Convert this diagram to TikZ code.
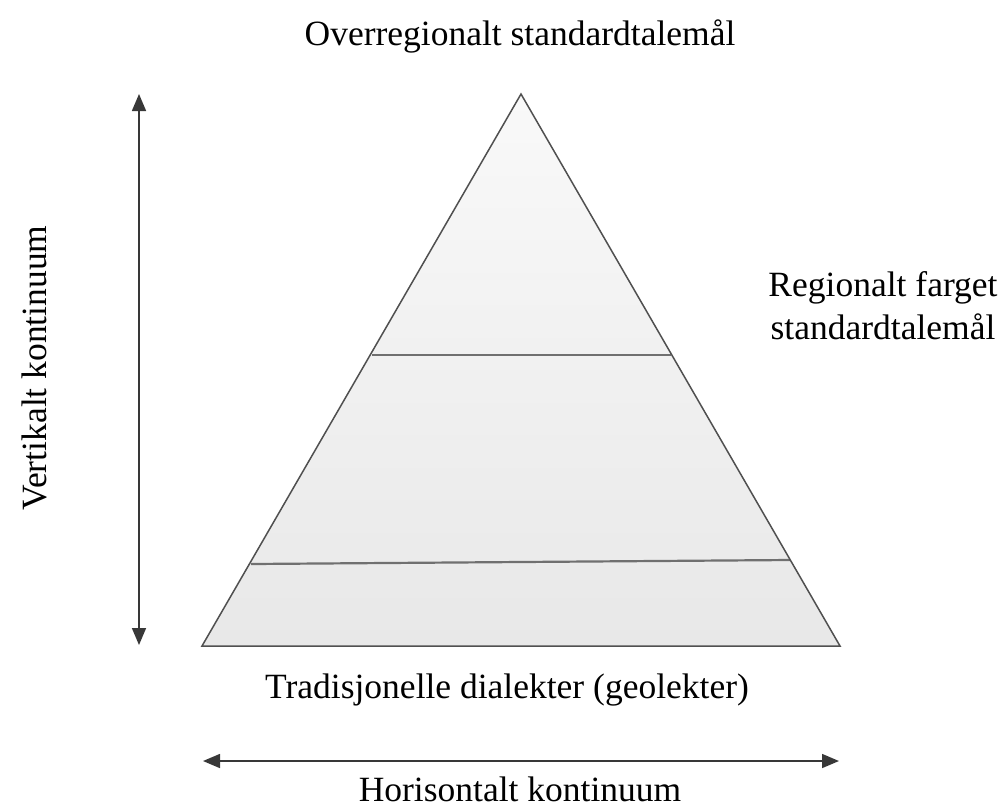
\documentclass[tikz,border=0pt]{standalone}
\usepackage{fontspec}
\setmainfont{Liberation Serif}
\usetikzlibrary{arrows.meta}
\definecolor{edge}{HTML}{505050}
\definecolor{band}{HTML}{707070}
\definecolor{arr}{HTML}{383838}
\definecolor{topfill}{HTML}{F9F9F9}
\definecolor{botfill}{HTML}{E8E8E8}
\tikzset{
  lbl/.style={font=\fontsize{35.5}{43}\selectfont, inner sep=0pt, text=black},
  outline/.style={draw=edge, line width=1.5pt, line join=miter},
  bandline/.style={draw=band, line width=2.2pt},
  dblarrow/.style={draw=arr, line width=1.6pt, {Triangle[length=17pt,width=14pt]}-{Triangle[length=17pt,width=14pt]}}
}
\begin{document}
\begin{tikzpicture}[x=1pt,y=-1pt]
\useasboundingbox (0,0) rectangle (1003,807);
% triangle corners
\coordinate (apex) at (521,94);
\coordinate (bl) at (202,646);
\coordinate (br) at (840,646);
% band line ends
\coordinate (u1) at (372,355);
\coordinate (u2) at (671,355);
\coordinate (l1) at (251,564);
\coordinate (l2) at (790,560);
% arrow ends
\coordinate (vt) at (139,94);
\coordinate (vb) at (139,645);
\coordinate (hl) at (203,761);
\coordinate (hr) at (839,761);

\shade[top color=topfill, bottom color=botfill] (apex) -- (br) -- (bl) -- cycle;
\draw[bandline] (u1) -- (u2);
\draw[bandline] (l1) -- (l2);
\draw[outline] (apex) -- (br) -- (bl) -- cycle;

\draw[dblarrow] (vt) -- (vb);
\draw[dblarrow] (hl) -- (hr);

\node[lbl] (top) at (520,36) {Overregionalt standardtalemål};
\node[lbl, align=center] (reg) at (883,306) {Regionalt farget\\standardtalemål};
\node[lbl, rotate=90] (vert) at (34,368) {Vertikalt kontinuum};
\node[lbl] (trad) at (507,690) {Tradisjonelle dialekter (geolekter)};
\node[lbl] (hor) at (520,789) {Horisontalt kontinuum};
\end{tikzpicture}
\end{document}
